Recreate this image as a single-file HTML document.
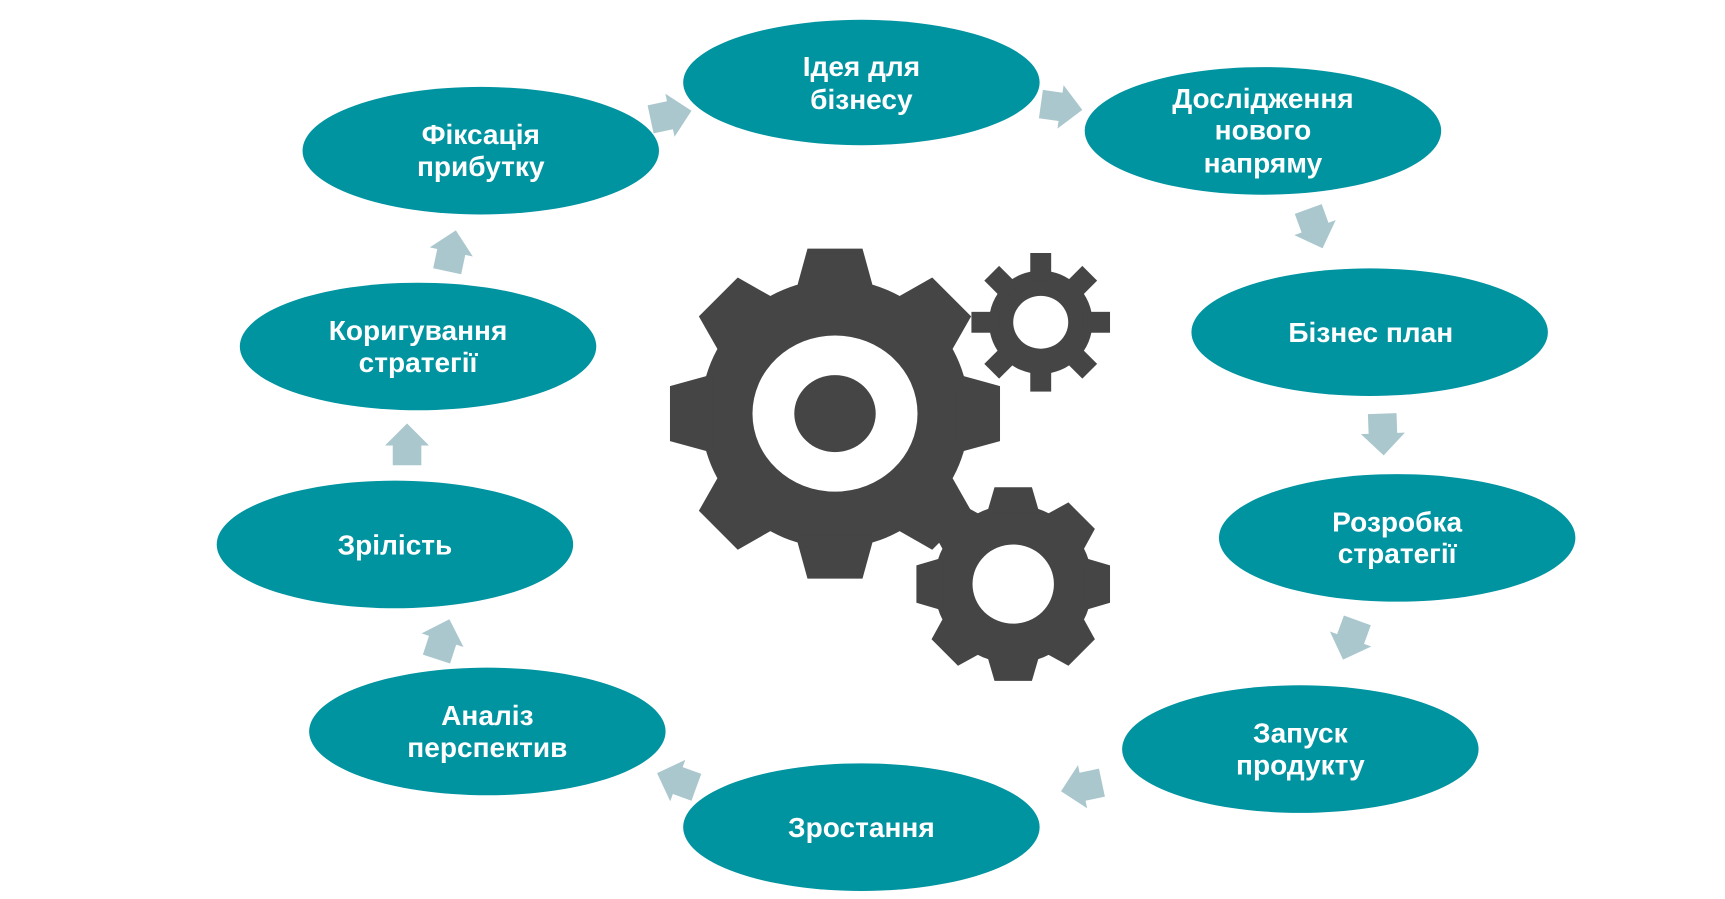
<!DOCTYPE html>
<html><head><meta charset="utf-8">
<style>
html,body{margin:0;padding:0;background:#fff;width:1725px;height:899px;overflow:hidden}
svg{display:block}
text{font-family:"Liberation Sans","DejaVu Sans",sans-serif;font-weight:bold;fill:#fff;font-size:25.5px;text-anchor:middle}
</style></head><body>
<svg width="1725" height="899" viewBox="0 0 1568 817.3" preserveAspectRatio="none" xmlns="http://www.w3.org/2000/svg">
<defs>
<path id="ar" d="M-13,17 L-13,-1 L-20,-1 L0,-21 L20,-1 L13,-1 L13,17Z" fill="#a9c7cd"/>
<polygon id="tb" points="-36,-110 -25,-150 25,-150 36,-110" fill="#454545"/>
<rect id="ts" x="-9.5" y="-63" width="19" height="25" fill="#454545"/>
<polygon id="tm" points="-24,-64 -17,-88 17,-88 24,-64" fill="#454545"/>
</defs>
<g fill="#0093a0">
<ellipse cx="783" cy="75" rx="162" ry="57"/>
<ellipse cx="1148" cy="119" rx="162" ry="58"/>
<ellipse cx="1245" cy="302" rx="162" ry="58"/>
<ellipse cx="1270" cy="489" rx="162" ry="58"/>
<ellipse cx="1182" cy="681" rx="162" ry="58"/>
<ellipse cx="783" cy="752" rx="162" ry="58"/>
<ellipse cx="443" cy="665" rx="162" ry="58"/>
<ellipse cx="359" cy="495" rx="162" ry="58"/>
<ellipse cx="380" cy="315" rx="162" ry="58"/>
<ellipse cx="437" cy="137" rx="162" ry="58"/>
</g>
<use href="#ar" transform="translate(608,105) rotate(78)"/>
<use href="#ar" transform="translate(963,97) rotate(98)"/>
<use href="#ar" transform="translate(1195,206) rotate(160)"/>
<use href="#ar" transform="translate(1257,393) rotate(178)"/>
<use href="#ar" transform="translate(1228,580) rotate(200)"/>
<use href="#ar" transform="translate(985,715) rotate(258)"/>
<use href="#ar" transform="translate(617,710) rotate(290)"/>
<use href="#ar" transform="translate(402,583) rotate(18)"/>
<use href="#ar" transform="translate(370,406) rotate(0)"/>
<use href="#ar" transform="translate(410,230) rotate(12)"/>
<g transform="translate(759,376)">
<circle r="122" fill="#454545"/>
<use href="#tb"/><use href="#tb" transform="rotate(45)"/><use href="#tb" transform="rotate(90)"/><use href="#tb" transform="rotate(135)"/>
<use href="#tb" transform="rotate(180)"/><use href="#tb" transform="rotate(225)"/><use href="#tb" transform="rotate(270)"/><use href="#tb" transform="rotate(315)"/>
<ellipse rx="75" ry="71" fill="#fff"/>
<ellipse rx="37" ry="35" fill="#454545"/>
</g>
<g transform="translate(946,293)">
<circle r="47" fill="#454545"/>
<use href="#ts"/><use href="#ts" transform="rotate(45)"/><use href="#ts" transform="rotate(90)"/><use href="#ts" transform="rotate(135)"/>
<use href="#ts" transform="rotate(180)"/><use href="#ts" transform="rotate(225)"/><use href="#ts" transform="rotate(270)"/><use href="#ts" transform="rotate(315)"/>
<ellipse rx="25" ry="24" fill="#fff"/>
</g>
<g transform="translate(921,531)">
<circle r="72" fill="#454545"/>
<use href="#tm"/><use href="#tm" transform="rotate(45)"/><use href="#tm" transform="rotate(90)"/><use href="#tm" transform="rotate(135)"/>
<use href="#tm" transform="rotate(180)"/><use href="#tm" transform="rotate(225)"/><use href="#tm" transform="rotate(270)"/><use href="#tm" transform="rotate(315)"/>
<ellipse rx="37" ry="36" fill="#fff"/>
</g>
<text x="783" y="69">Ідея для</text><text x="783" y="99">бізнесу</text>
<text x="1148" y="98">Дослідження</text><text x="1148" y="127">нового</text><text x="1148" y="157">напряму</text>
<text x="1246" y="311">Бізнес план</text>
<text x="1270" y="483">Розробка</text><text x="1270" y="512">стратегії</text>
<text x="1182" y="675">Запуск</text><text x="1182" y="704">продукту</text>
<text x="783" y="761">Зростання</text>
<text x="443" y="659">Аналіз</text><text x="443" y="688">перспектив</text>
<text x="359" y="504">Зрілість</text>
<text x="380" y="309">Коригування</text><text x="380" y="338">стратегії</text>
<text x="437" y="131">Фіксація</text><text x="437" y="160">прибутку</text>
</svg>
</body></html>
